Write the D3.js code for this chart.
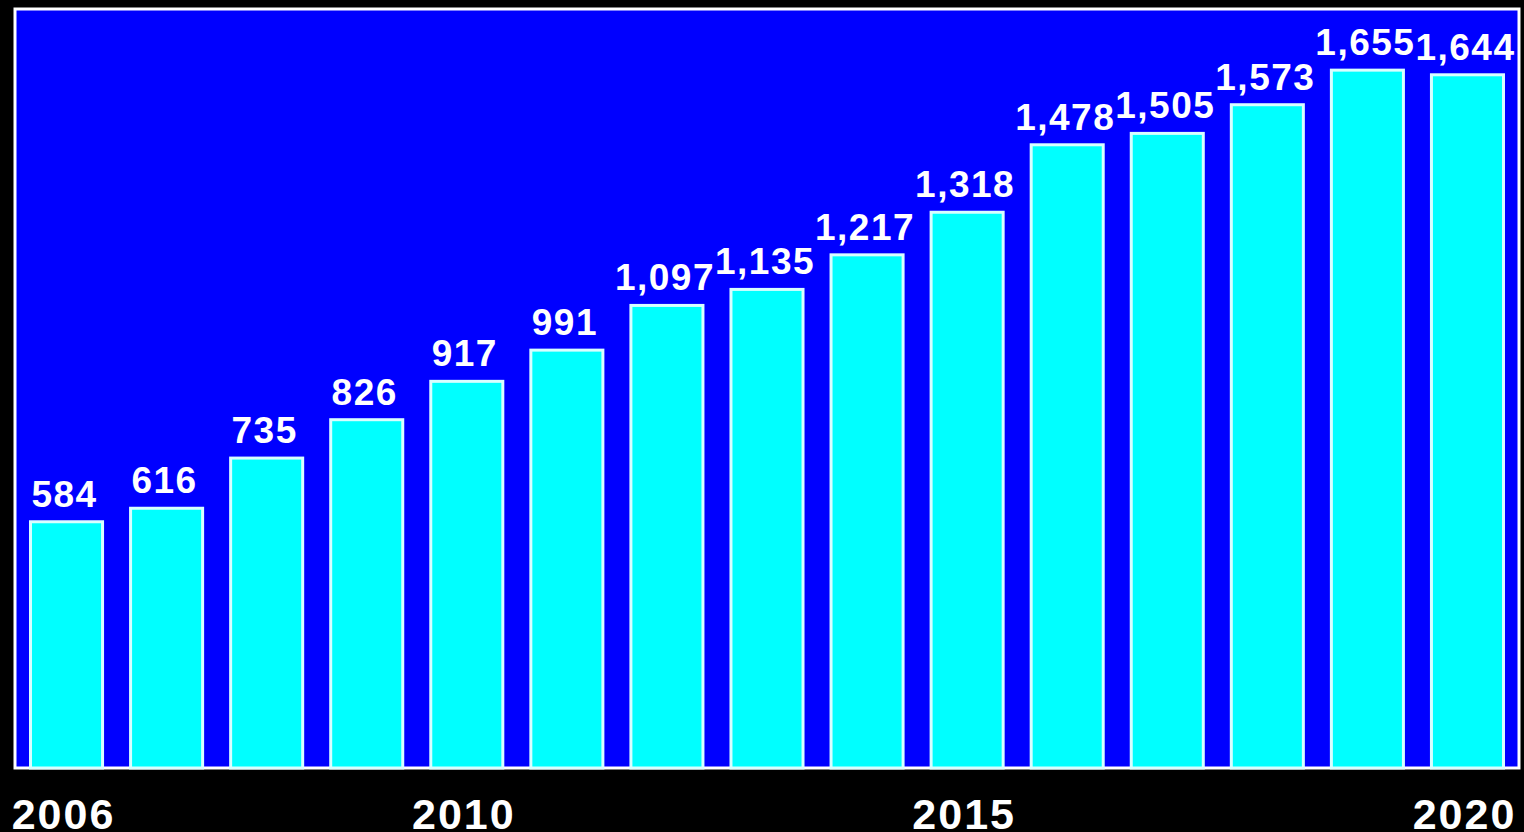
<!DOCTYPE html>
<html>
<head>
<meta charset="utf-8">
<script src="https://cdn.jsdelivr.net/npm/d3@7"></script>
<style>
  html, body { margin: 0; padding: 0; background: #000; }
  svg { display: block; }
</style>
</head>
<body>
<svg id="chart" width="1524" height="832"></svg>
<script>
const years = [2006, 2007, 2008, 2009, 2010, 2011, 2012, 2013, 2014, 2015, 2016, 2017, 2018, 2019, 2020];
const values = [584, 616, 735, 826, 917, 991, 1097, 1135, 1217, 1318, 1478, 1505, 1573, 1655, 1644];
const tickYears = [2006, 2010, 2015, 2020];
const yMax = 1800;

const svg = d3.select("#chart");
const W = 1524, H = 832;
svg.append("rect").attr("x", 0).attr("y", 0).attr("width", W).attr("height", H).attr("fill", "#000");

const plot = { left: 15, right: 1519, top: 9, bottom: 768 };

const x = d3.scaleBand()
  .domain(years)
  .range([plot.left + 1.5, plot.right - 1.5])
  .paddingInner(0.28)
  .paddingOuter(0.14);

const y = d3.scaleLinear().domain([0, yMax]).range([plot.bottom, plot.top]);

svg.append("rect")
  .attr("x", plot.left).attr("y", plot.top)
  .attr("width", plot.right - plot.left).attr("height", plot.bottom - plot.top)
  .attr("fill", "#0000ff")
  .attr("stroke", "#ffffff").attr("stroke-width", 3);

svg.append("g").selectAll("rect")
  .data(values)
  .join("rect")
  .attr("x", (d, i) => x(years[i]))
  .attr("y", d => y(d))
  .attr("width", x.bandwidth())
  .attr("height", d => y(0) - y(d))
  .attr("fill", "#00ffff")
  .attr("stroke", "#d8ffff")
  .attr("stroke-width", 3);

svg.append("g").selectAll("text")
  .data(values)
  .join("text")
  .attr("x", (d, i) => x(years[i]) + x.bandwidth() / 2 - 2)
  .attr("y", d => y(d) - 15)
  .attr("text-anchor", "middle")
  .attr("fill", "#ffffff")
  .attr("font-family", "'Liberation Sans', Arial, sans-serif")
  .attr("font-weight", "bold")
  .attr("font-size", 37)
  .attr("letter-spacing", 1.5)
  .text(d => d3.format(",")(d));

const xAxis = d3.axisBottom(x).tickValues(tickYears).tickSize(0).tickPadding(0);
const gx = svg.append("g").attr("transform", `translate(0, ${plot.bottom})`).call(xAxis);
gx.select(".domain").remove();
gx.selectAll("text")
  .attr("x", -3)
  .attr("y", 61)
  .attr("dy", 0)
  .attr("fill", "#ffffff")
  .attr("font-family", "'Liberation Sans', Arial, sans-serif")
  .attr("font-weight", "bold")
  .attr("font-size", 43)
  .attr("letter-spacing", 2);
</script>
</body>
</html>
